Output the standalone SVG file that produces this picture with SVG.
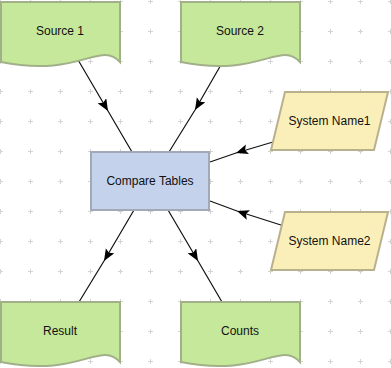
<svg xmlns="http://www.w3.org/2000/svg" width="391" height="368" viewBox="0 0 391 368">
<defs>
<pattern id="grid" x="-15" y="-14" width="30" height="30" patternUnits="userSpaceOnUse">
<rect x="13" y="15" width="5" height="1" fill="#d4d4d4"/>
<rect x="15" y="13" width="1" height="5" fill="#d4d4d4"/>
</pattern>
<marker id="arr" markerUnits="userSpaceOnUse" markerWidth="14" markerHeight="12" refX="12" refY="5" orient="auto">
<path d="M0,0 L12,5 L0,10 L2.5,5 Z" fill="#000"/>
</marker>
<path id="doc" d="M0,0 H119 V60 C99,38 79,76 0,60 Z"/>
</defs>
<style>
.doc{fill:#c6e89b;stroke:#a2b08a;stroke-width:2}
.proc{fill:#c4d2ec;stroke:#a1a8b6;stroke-width:2}
.io{fill:#fbefb9;stroke:#b9b08e;stroke-width:2}
.lbl{font-family:"Liberation Sans",Arial,sans-serif;font-size:12px;fill:#111;text-anchor:middle}
.edge{fill:none;stroke:#111;stroke-width:1.2;marker-mid:url(#arr)}
</style>
<rect width="391" height="368" fill="#fff"/>
<rect width="391" height="368" fill="url(#grid)"/>
<g id="connectors">
<polyline class="edge" points="74,53 108,111 132,152"/>
<polyline class="edge" points="222,63 195,110 169,152"/>
<polyline class="edge" points="273,142 236,153 210,162"/>
<polyline class="edge" points="284,226 237,211 210,201"/>
<polyline class="edge" points="134,210 104,261 79,302"/>
<polyline class="edge" points="168,210 198,261 222,302"/>
</g>
<g id="source1">
<path class="doc" d="M1,2 H120 V62 C100,40 80,78 1,62 Z"/>
<text class="lbl" x="60" y="35">Source 1</text>
</g>
<g id="source2">
<path class="doc" d="M181,2 H300 V62 C280,40 260,78 181,62 Z"/>
<text class="lbl" x="240" y="35">Source 2</text>
</g>
<g id="compare">
<rect class="proc" x="91" y="152" width="118" height="58"/>
<text class="lbl" x="150" y="185">Compare Tables</text>
</g>
<g id="sysname1">
<polygon class="io" points="285,92 388,92 374,150 271,150"/>
<text class="lbl" x="329.5" y="125">System Name1</text>
</g>
<g id="sysname2">
<polygon class="io" points="285,212 388,212 374,270 271,270"/>
<text class="lbl" x="329.5" y="245">System Name2</text>
</g>
<g id="result">
<path class="doc" d="M1,302 H120 V362 C100,340 80,378 1,362 Z"/>
<text class="lbl" x="60" y="335">Result</text>
</g>
<g id="counts">
<path class="doc" d="M181,302 H300 V362 C280,340 260,378 181,362 Z"/>
<text class="lbl" x="240" y="335">Counts</text>
</g>
</svg>
